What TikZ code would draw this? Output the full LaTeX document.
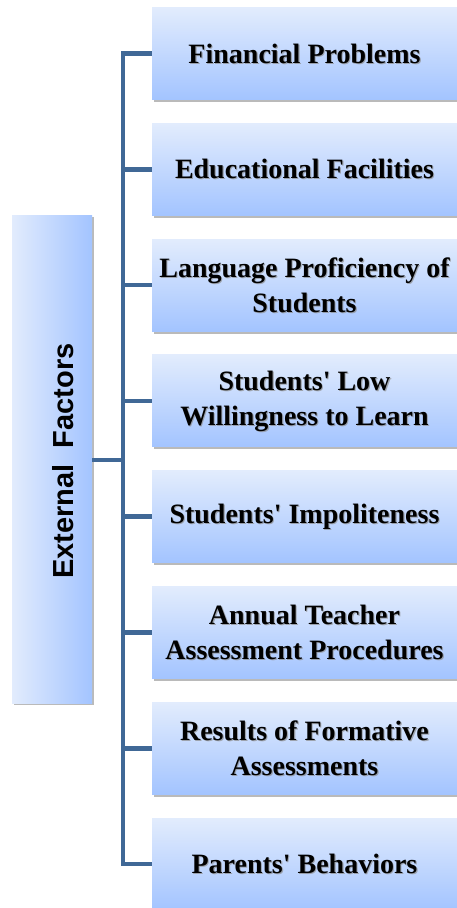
\documentclass[tikz,border=0pt]{standalone}
\usepackage{fontspec}
\setmainfont{Liberation Serif}
\newfontfamily\sansbold{Liberation Sans}
\usetikzlibrary{shadows}
\definecolor{boxtop}{RGB}{226,236,253}
\definecolor{boxbot}{RGB}{163,196,255}
\definecolor{connblue}{RGB}{64,104,150}
\newcommand{\apos}{\textquotesingle}
\tikzset{
  factor/.style={minimum width=305pt, minimum height=92pt, inner sep=0pt,
    top color=boxtop, bottom color=boxbot,
    drop shadow={shadow xshift=1.8pt, shadow yshift=-2.4pt, opacity=0.45, fill=black!60}},
  factortext/.style={align=center, inner sep=0pt,
    font=\fontsize{28}{35}\selectfont\bfseries},
  textshade/.style={factortext, text=black!45, opacity=0.7},
  mainbox/.style={minimum width=80pt, minimum height=488pt, inner sep=0pt,
    left color=boxtop, right color=boxbot,
    drop shadow={shadow xshift=1.8pt, shadow yshift=-2.4pt, opacity=0.45, fill=black!60}},
  conn/.style={draw=connblue, line width=4.6pt}
}
% box, soft text shadow, and label of one factor
\newcommand{\factorbox}[3]{%
  \node[factor] (#1) at (304.5,#2) {};
  \node[textshade] (#1sh) at ([shift={(1.1pt,-1.1pt)}]#1.center) {#3};
  \node[factortext] (#1t) at (#1.center) {#3};
}
\begin{document}
\begin{tikzpicture}[x=1pt,y=-1pt]
  \useasboundingbox (0,0) rectangle (457,908);
  % left box with rotated title
  \node[mainbox] (ext) at (52,459) {};
  \node[rotate=90, inner sep=0pt, font=\sansbold\fontsize{29}{35}\selectfont\bfseries] (exttext) at (63,461) {External\ \ Factors};
  % trunk position
  \coordinate (trunk) at (123,0);
  % factor boxes
  \factorbox{f1}{53.5}{Financial Problems}
  \factorbox{f2}{169.3}{Educational Facilities}
  \factorbox{f3}{285.1}{Language Proficiency of\\Students}
  \factorbox{f4}{400.9}{Students\apos{} Low\\Willingness to Learn}
  \factorbox{f5}{516.7}{Students\apos{} Impoliteness}
  \factorbox{f6}{632.5}{Annual Teacher\\Assessment Procedures}
  \factorbox{f7}{748.3}{Results of Formative\\Assessments}
  \factorbox{f8}{864.1}{Parents\apos{} Behaviors}
  % connectors
  \draw[conn] (f1.west) -| (f1.west -| trunk) |- (f8.west);
  \foreach \i in {2,...,7} {
    \draw[conn] (f\i.west) -- (f\i.west -| trunk);
  }
  \draw[conn] (ext.east |- 0,460) -- (trunk |- 0,460);
\end{tikzpicture}
\end{document}
